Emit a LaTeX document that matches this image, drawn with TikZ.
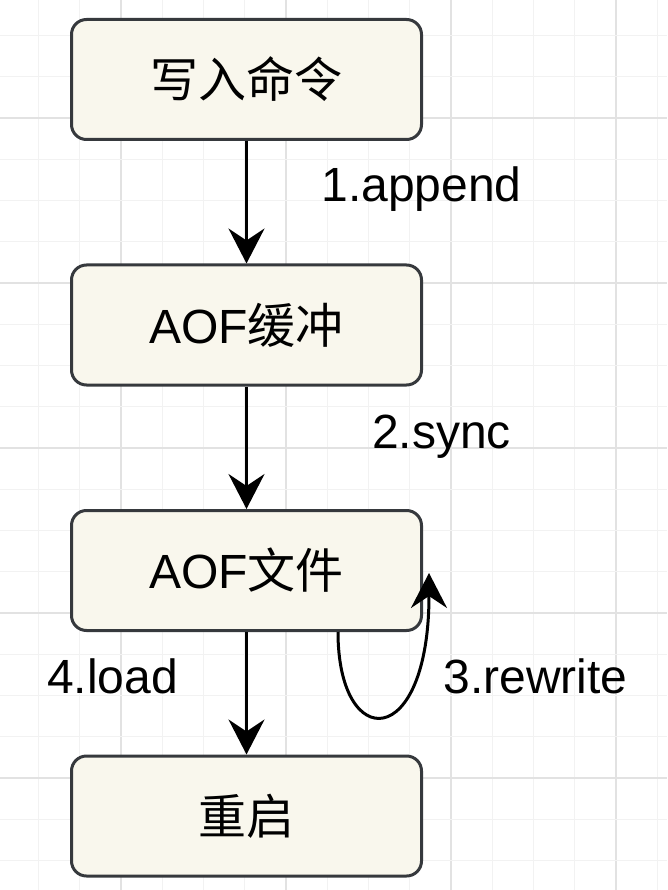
\documentclass[tikz,border=0pt]{standalone}
\usepackage{fontspec}
\setmainfont{Liberation Sans}
\newfontfamily\cjk{Noto Sans CJK SC}
\usetikzlibrary{arrows.meta}
\definecolor{boxfill}{HTML}{F9F7ED}
\definecolor{boxline}{HTML}{36393D}
\definecolor{gminorc}{HTML}{F2F2F2}
\definecolor{gmajorc}{HTML}{E2E2E2}
\tikzset{
  gminor/.style={draw=gminorc, line width=1.2pt},
  gmajor/.style={draw=gmajorc, line width=1.5pt},
  flowbox/.style={draw=boxline, fill=boxfill, line width=3pt, rounded corners=15pt,
    minimum width=350pt, minimum height=120pt, inner sep=0pt,
    font=\fontsize{48}{56}\selectfont, text=black},
  lbl/.style={inner sep=0pt, anchor=base, font=\fontsize{48}{56}\selectfont, text=black},
  arr/.style={draw=black, line width=3pt, -{Stealth[length=35pt,width=36pt,inset=12pt]}}
}
\begin{document}
\begin{tikzpicture}[x=1pt,y=-1pt]
\useasboundingbox (0,0) rectangle (667,890);
\fill[white] (0,0) rectangle (667,890);
% grid
\foreach \k in {-2,...,13}{
  \pgfmathsetmacro{\gx}{121+41.25*\k}
  \pgfmathtruncatemacro{\gm}{mod(\k+8,4)}
  \ifnum\gm=0 \draw[gmajor] (\gx,0) -- (\gx,890); \else \draw[gminor] (\gx,0) -- (\gx,890); \fi
}
\foreach \k in {-2,...,18}{
  \pgfmathsetmacro{\gy}{118+41.25*\k}
  \pgfmathtruncatemacro{\gm}{mod(\k+8,4)}
  \ifnum\gm=0 \draw[gmajor] (0,\gy) -- (667,\gy); \else \draw[gminor] (0,\gy) -- (667,\gy); \fi
}
% boxes
\node[flowbox] (a) at (246.5,79.5) {\cjk 写入命令};
\node[flowbox] (b) at (246.5,325) {AOF{\cjk 缓冲}};
\node[flowbox] (c) at (246.5,570.5) {AOF{\cjk 文件}};
\node[flowbox] (d) at (246.5,816) {\cjk 重启};
% connectors
\draw[arr] (a.south) -- (b.north);
\draw[arr] (b.south) -- (c.north);
\draw[arr] (c.south) -- (d.north);
\draw[arr] ([xshift=91.5pt]c.south) .. controls +(0,121.5) and +(0,179) .. ([xshift=6pt,yshift=-2.5pt]c.east);
% labels
\node[lbl] (l1) at (421.5,202) {1.append};
\node[lbl] (l2) at (441.5,448) {2.sync};
\node[lbl] (l3) at (535.5,693) {3.rewrite};
\node[lbl] (l4) at (112.5,693) {4.load};
\end{tikzpicture}
\end{document}
